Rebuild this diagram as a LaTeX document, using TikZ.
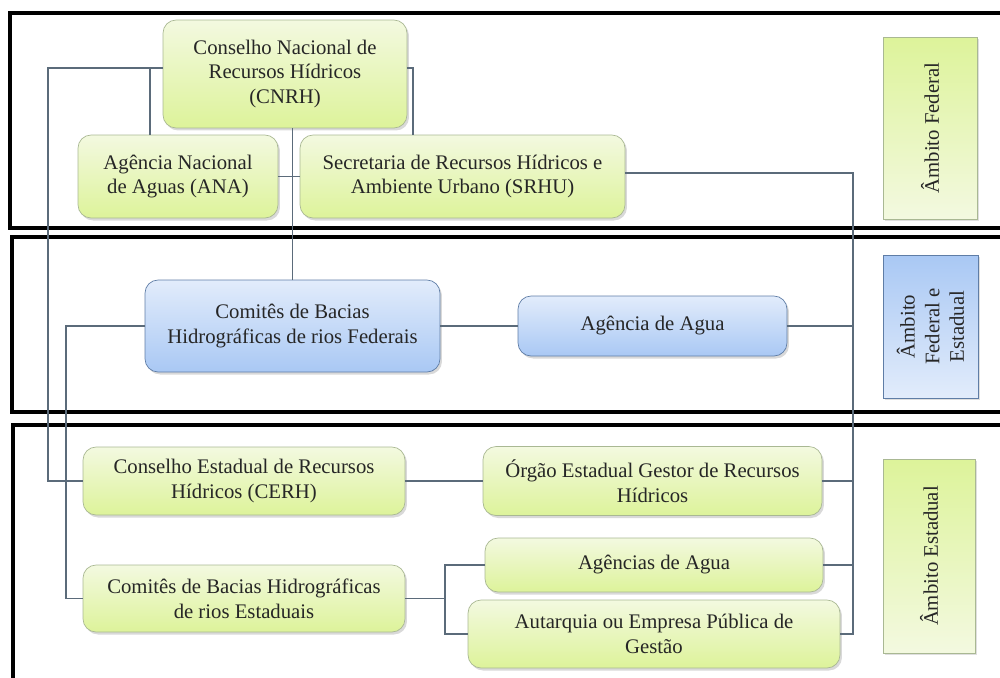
\documentclass[tikz,border=0pt]{standalone}
\usepackage{fontspec}
\setmainfont{Liberation Serif}
\newfontfamily\boxfont{Liberation Serif}
\usetikzlibrary{shadows}

\definecolor{greentop}{HTML}{F3F9E0}
\definecolor{greenbot}{HTML}{DDF39A}
\definecolor{greenline}{HTML}{A9B893}
\definecolor{bluetop}{HTML}{E2ECFB}
\definecolor{bluebot}{HTML}{A9C8F4}
\definecolor{blueline}{HTML}{5F7DA6}
\definecolor{linkgray}{HTML}{5B6B7A}

\tikzset{
    zone/.style={line width=1.8pt, black},
    link/.style={draw=linkgray, line width=0.6pt},
    boxtext/.style={align=center, font=\boxfont\fontsize{11.8}{14}\selectfont, text=black!85, inner sep=2pt, outer sep=0pt},
    greenbox/.style={boxtext, rounded corners=0.26cm, draw=greenline, top color=greentop, bottom color=greenbot,
        drop shadow={opacity=0.3, shadow xshift=0.04cm, shadow yshift=-0.05cm}},
    bluebox/.style={boxtext, rounded corners=0.26cm, draw=blueline, top color=bluetop, bottom color=bluebot,
        drop shadow={opacity=0.3, shadow xshift=0.04cm, shadow yshift=-0.05cm}},
    sidegreen/.style={boxtext, rotate=90, draw=greenline, top color=greenbot, bottom color=greentop,
        drop shadow={opacity=0.25, shadow xshift=0.04cm, shadow yshift=-0.04cm}},
    sideblue/.style={boxtext, rotate=90, draw=blueline, top color=bluebot, bottom color=bluetop,
        drop shadow={opacity=0.25, shadow xshift=0.04cm, shadow yshift=-0.04cm}}
}

\begin{document}
\begin{tikzpicture}[x=0.02cm, y=-0.02cm]
    \useasboundingbox (0,0) rectangle (1000,677);

    % frames
    \draw[zone] (1004,13) -- (10,13) -- (10,228) -- (1004,228);
    \draw[zone] (1004,237) -- (12,237) -- (12,412) -- (1004,412);
    \draw[zone] (1004,425) -- (13,425) -- (13,682);

    % federal
    \node[greenbox, minimum width=4.88cm, minimum height=2.16cm] (cnrh) at (285,74)
        {Conselho Nacional de\\Recursos Hídricos\\(CNRH)};
    \node[greenbox, minimum width=4.0cm, minimum height=1.66cm] (ana) at (178,176.5)
        {Agência Nacional\\de Aguas (ANA)};
    \node[greenbox, minimum width=6.5cm, minimum height=1.66cm] (srhu) at (462.5,176.5)
        {Secretaria de Recursos Hídricos e\\Ambiente Urbano (SRHU)};
    \node[sidegreen, minimum width=3.64cm, minimum height=1.88cm] (fed) at (930,128)
        {Âmbito Federal};

    % federal e estadual
    \node[bluebox, minimum width=5.9cm, minimum height=1.84cm] (cbhf) at (292.5,326)
        {Comitês de Bacias\\Hidrográficas de rios Federais};
    \node[bluebox, minimum width=5.38cm, minimum height=1.2cm] (agua) at (652.5,326)
        {Agência de Agua};
    \node[sideblue, minimum width=2.86cm, minimum height=1.9cm] (fedest) at (930.5,326.5)
        {Âmbito\\Federal e\\Estadual};

    % estadual
    \node[greenbox, minimum width=6.44cm, minimum height=1.36cm] (cerh) at (244,481)
        {Conselho Estadual de Recursos\\Hídricos (CERH)};
    \node[greenbox, minimum width=6.78cm, minimum height=1.38cm] (orgao) at (652.5,481)
        {Órgão Estadual Gestor de Recursos\\Hídricos};
    \node[greenbox, minimum width=6.44cm, minimum height=1.34cm] (cbhe) at (244,598.5)
        {Comitês de Bacias Hidrográficas\\de rios Estaduais};
    \node[greenbox, minimum width=6.76cm, minimum height=1.08cm] (agencias) at (654,565)
        {Agências de Agua};
    \node[greenbox, minimum width=7.44cm, minimum height=1.36cm] (autarquia) at (654,634)
        {Autarquia ou Empresa Pública de\\Gestão};
    \node[sidegreen, minimum width=3.88cm, minimum height=1.84cm] (est) at (929,556)
        {Âmbito Estadual};

    % bus points
    \coordinate (fedbus) at (48,481);
    \coordinate (cbbus) at (66,598.5);
    \coordinate (rbus) at (853,634);
    \coordinate (sbus) at (445,598.5);

    % connectors
    \draw[link] ([yshift=0.12cm]cnrh.west) -| (fedbus) -- (cerh.west);
    \draw[link] ([xshift=-0.56cm]ana.north) |- ([yshift=0.12cm]cnrh.west);
    \draw[link] ([yshift=0.12cm]cnrh.east) -| ([xshift=-0.99cm]srhu.north);
    \draw[link] (cbhf.north) -- (cbhf.north |- cnrh.south);
    \draw[link] (ana.east) -- (srhu.west);
    \draw[link] ([yshift=0.07cm]srhu.east) -| (rbus) -- (autarquia.east);
    \draw[link] (agua.east) -- (agua.east -| rbus);
    \draw[link] (orgao.east) -- (orgao.east -| rbus);
    \draw[link] (agencias.east) -- (agencias.east -| rbus);
    \draw[link] (cbhf.west) -| (cbbus) -- (cbhe.west);
    \draw[link] (cbhf.east) -- (agua.west);
    \draw[link] (cerh.east) -- (orgao.west);
    \draw[link] (cbhe.east) -- (sbus);
    \draw[link] (agencias.west) -| (sbus) |- (autarquia.west);

\end{tikzpicture}
\end{document}
